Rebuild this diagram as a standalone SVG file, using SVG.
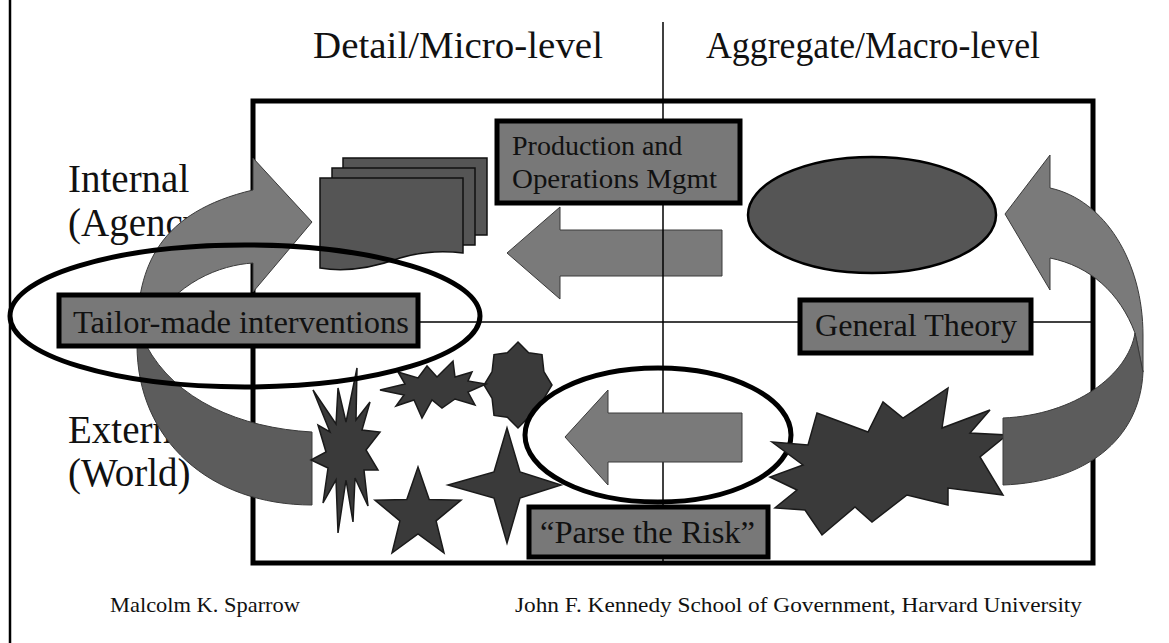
<svg xmlns="http://www.w3.org/2000/svg" width="1169" height="643" viewBox="0 0 1169 643">
<style>
.t{font-family:"Liberation Serif","Times New Roman",serif;fill:#111}
.box{fill:#787878;stroke:#000;stroke-width:5}
.arw{fill:#7a7a7a;stroke:#3a3a3a;stroke-width:1}
.band{fill:#5c5c5c;stroke:#3a3a3a;stroke-width:1}
.star{fill:#3a3a3a;stroke:#1a1a1a;stroke-width:1.5}
.ring{fill:none;stroke:#000;stroke-width:5}
.doc{fill:#555;stroke:#111;stroke-width:1.5}
.grid{stroke:#000;stroke-width:1.5;fill:none}
</style>
<rect width="1169" height="643" fill="#fff"/>
<line x1="10" y1="0" x2="10" y2="643" stroke="#000" stroke-width="2.5"/>

<g id="headers">
<text class="t" x="313" y="58" font-size="38" textLength="290" lengthAdjust="spacingAndGlyphs">Detail/Micro-level</text>
<text class="t" x="706" y="58" font-size="38" textLength="334" lengthAdjust="spacingAndGlyphs">Aggregate/Macro-level</text>
</g>
<g id="row-labels">
<text class="t" x="68" y="192" font-size="39">Internal</text>
<text class="t" x="68" y="236" font-size="39">(Agency)</text>
<text class="t" x="68" y="443" font-size="39">External</text>
<text class="t" x="68" y="486" font-size="39">(World)</text>
</g>

<g id="frame">
<rect x="253" y="101" width="840" height="462" fill="none" stroke="#000" stroke-width="5"/>
<line class="grid" x1="253" y1="322" x2="1093" y2="322"/>
</g>

<g id="documents">
<rect class="doc" x="343" y="158" width="144" height="77"/>
<rect class="doc" x="332" y="168" width="143" height="77"/>
<path class="doc" d="M320,178 H463 V253 C440,250 420,252 400,258 C378,266 350,273 320,268 Z"/>
</g>
<g id="theory-ellipse">
<ellipse cx="872" cy="215" rx="124" ry="58" fill="#555" stroke="#000" stroke-width="2.5"/>
</g>

<g id="connectors">
<path id="arrow-top" class="arw" d="M507,253 L560,207 L560,230 L722,230 L722,276 L560,276 L560,299 Z"/>
</g>

<g id="risk-shapes">
<polygon id="star-8" class="star" points="518,342 528.7,352.7 542,354.6 543.9,371.6 552,385 543.9,398.4 542,415.4 528.7,417.3 518,428 507.3,417.3 494,415.4 492.1,398.4 484,385 492.1,371.6 494,354.6 507.3,352.7"/>
<polygon id="star-spiky" class="star" points="380,390 405,384 398,372 418,378 427,366 437,377 453,361 455,377 472,372 468,381 486,384 468,392 475,405 455,399 442,408 432,400 422,418 414,400 396,406 404,395"/>
<polygon id="star-5" class="star" points="418,467 429.2,499.6 461,500.2 436.1,520.9 444,553 418,534 392,553 399.9,520.9 375,500.2 406.8,499.6"/>
<polygon id="star-4" class="star" points="507,428 520,472 561,485 520,498 507,543 494,498 448,485 494,472"/>
</g>

<g id="parse-ellipse-fill">
<ellipse cx="658" cy="435" rx="133" ry="67" fill="#fff"/>
</g>
<line class="grid" x1="663" y1="22" x2="663" y2="563"/>
<g id="parse-ellipse">
<ellipse class="ring" cx="658" cy="435" rx="133" ry="67"/>
</g>

<g id="connectors-2">
<path id="arrow-bottom" class="arw" d="M565,437 L608,390 L608,413 L742,413 L742,462 L608,462 L608,485 Z"/>
</g>

<g id="explosion">
<polygon class="star" stroke-width="2" points="772,442 808,445 817,413 868,432 883,402 903,418 948,388 942,428 990,410 970,433 1007,435 980,457 1003,495 948,488 948,505 907,495 872,522 855,507 822,535 805,510 775,508 797,490 770,477 803,465"/>
</g>

<g id="connectors-3">
<path id="curve-right-light" class="arw" d="M1050,155 L1050,188 C1105,200 1143,262 1143,335 L1143,372 C1140,360 1138,345 1135,333 C1120,293 1090,266 1050,258 L1050,290 L1005,214 Z"/>
<path id="curve-right-dark" class="band" d="M1135,333 C1128,375 1075,415 1003,418 L1003,485 C1085,482 1140,440 1143,372 Z"/>
<path id="curve-left-light" class="arw" d="M253,158 L312,222 L253,292 L253,263 C220,265 175,282 148,330 L137,335 C137,265 160,212 253,190 Z"/>
<path id="curve-left-dark" class="band" d="M137,345 C137,440 210,505 312,505 L312,432 C240,428 175,400 146,345 Z"/>
</g>

<g id="burst">
<polygon class="star" points="357,368 356,420 370,402 362,430 380,432 366,450 378,470 364,470 368,506 355,478 353,522 346,480 338,533 336,480 323,503 328,468 311,460 326,452 318,425 330,432 313,390 336,424 338,388 346,422"/>
</g>

<g id="tailor-ellipse">
<ellipse class="ring" cx="245" cy="316" rx="235" ry="71"/>
</g>

<g id="production">
<rect class="box" x="497" y="121" width="243" height="82"/>
<text class="t" x="512" y="155" font-size="28">Production and</text>
<text class="t" x="512" y="188" font-size="28" textLength="205" lengthAdjust="spacingAndGlyphs">Operations Mgmt</text>
</g>
<g id="tailor">
<rect class="box" x="59" y="295" width="359" height="51"/>
<text class="t" x="73" y="333" font-size="31" textLength="336" lengthAdjust="spacingAndGlyphs">Tailor-made interventions</text>
</g>
<g id="general">
<rect class="box" x="800" y="300" width="231" height="53"/>
<text class="t" x="815" y="336" font-size="31" textLength="202" lengthAdjust="spacingAndGlyphs">General Theory</text>
</g>
<g id="parse">
<rect class="box" x="529" y="507" width="239" height="50"/>
<text class="t" x="540" y="543" font-size="31" textLength="215" lengthAdjust="spacingAndGlyphs">“Parse the Risk”</text>
</g>

<g id="footer">
<text class="t" x="110" y="612" font-size="22" textLength="190" lengthAdjust="spacingAndGlyphs">Malcolm K. Sparrow</text>
<text class="t" x="515" y="612" font-size="22" textLength="567" lengthAdjust="spacingAndGlyphs">John F. Kennedy School of Government, Harvard University</text>
</g>
</svg>
